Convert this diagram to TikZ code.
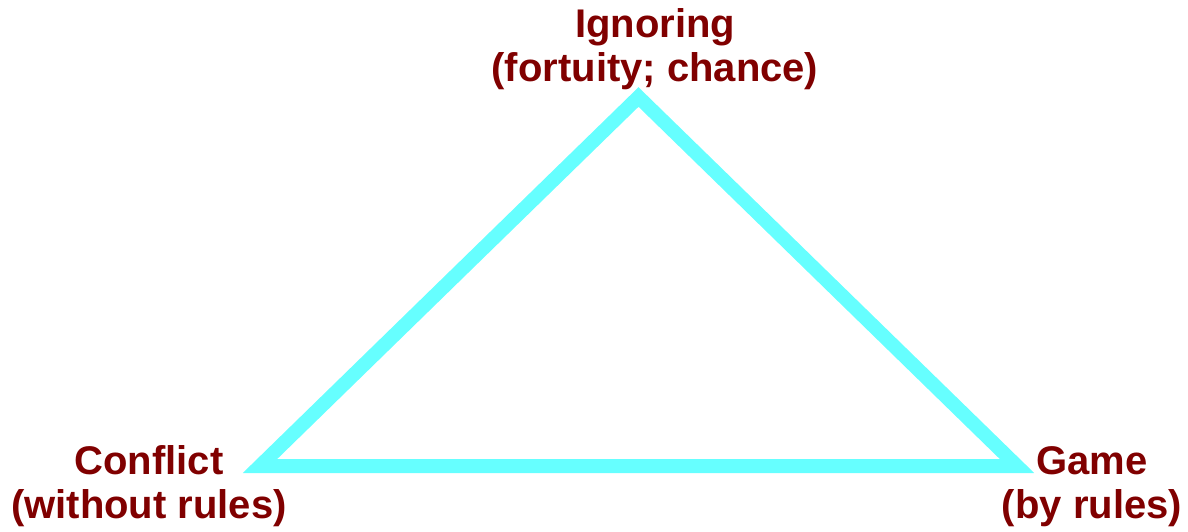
\documentclass[tikz,border=0pt]{standalone}
\usepackage{fontspec}
\setmainfont{Liberation Sans}
\usepackage{xcolor}
\usepackage{tikz}
\definecolor{LabelRed}{HTML}{800000}
\definecolor{EdgeCyan}{HTML}{66FFFF}

\begin{document}
\begin{tikzpicture}[x=0.5pt, y=0.5pt, every node/.style={font=\fontsize{20pt}{22pt}\selectfont\bfseries}, lbl/.style={text=LabelRed, align=center, inner sep=0pt, anchor=base}, edge/.style={draw=EdgeCyan, line width=7pt, line join=miter}]
\useasboundingbox (0,0) rectangle (1188,531);
\coordinate (top) at (638.5,434);
\coordinate (lft) at (260,65);
\coordinate (rgt) at (1017,65);
\draw[edge] (top) -- (lft) -- (rgt) -- cycle;
\node[lbl] (ign) at (655,449) {Ignoring\\(fortuity; chance)};
\node[lbl] (cnf) at (149,13) {Conflict\\(without rules)};
\node[lbl] (gam) at (1092,13) {Game\\(by rules)};
\end{tikzpicture}
\end{document}
